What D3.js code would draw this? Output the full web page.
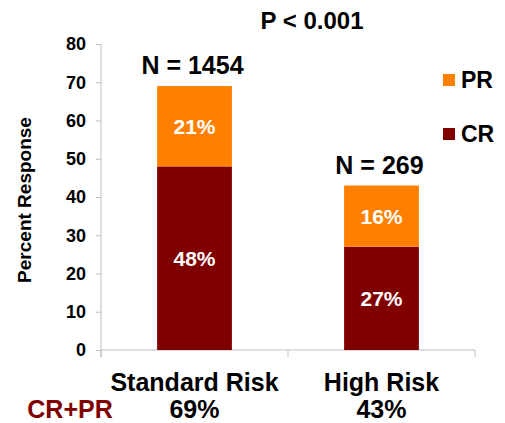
<!DOCTYPE html>
<html>
<head>
<meta charset="utf-8">
<title>Response</title>
<script src="https://cdnjs.cloudflare.com/ajax/libs/d3/7.8.5/d3.min.js"></script>
<style>
  body { margin: 0; background: #fff; }
  text { font-family: "Liberation Sans", Arial, sans-serif; font-weight: bold; }
</style>
</head>
<body>
<div id="chart"></div>
<script type="text/javascript">
	var groups = ["Standard Risk", "High Risk"];
	var sampleSizes = ["N = 1454", "N = 269"];
	var crValues = [48, 27];
	var prValues = [21, 16];
	var totals = ["69%", "43%"];
	var yTicks = [0, 10, 20, 30, 40, 50, 60, 70, 80];
	var colors = { CR: "#800000", PR: "#FF8000" };

	var width = 505, height = 423;
	var plotLeft = 101, plotRight = 475, plotTop = 44, plotBottom = 350;

	var svg = d3.select("#chart").append("svg")
		.attr("width", width)
		.attr("height", height);

	var x = d3.scaleBand().domain(groups).range([plotLeft, plotRight]).paddingInner(0.6).paddingOuter(0.3);
	var y = d3.scaleLinear().domain([0, 80]).range([plotBottom, plotTop]);

	// y axis
	var yAxis = svg.append("g")
		.attr("transform", "translate(" + plotLeft + ",0)")
		.call(d3.axisLeft(y).tickValues(yTicks).tickSize(5).tickPadding(10));
	yAxis.select(".domain").attr("stroke", "#bfbfbf").attr("d", "M0," + plotTop + "V" + (plotBottom + 7));
	yAxis.selectAll(".tick line").attr("stroke", "#bfbfbf");
	yAxis.selectAll(".tick text").attr("fill", "#000")
		.style("font-size", "18px")
		.style("font-family", "'Liberation Sans', Arial, sans-serif")
		.style("font-weight", "bold");

	// x axis with separators between categories
	svg.append("line")
		.attr("x1", plotLeft).attr("x2", plotRight)
		.attr("y1", plotBottom).attr("y2", plotBottom)
		.attr("stroke", "#bfbfbf");
	var step = (plotRight - plotLeft) / groups.length;
	d3.range(groups.length + 1).forEach(function(i) {
		svg.append("line")
			.attr("x1", plotLeft + i * step).attr("x2", plotLeft + i * step)
			.attr("y1", plotBottom).attr("y2", plotBottom + 7)
			.attr("stroke", "#bfbfbf");
	});

	// stacked bars
	var stackData = groups.map(function(g, i) {
		return { group: g, CR: crValues[i], PR: prValues[i] };
	});
	var series = d3.stack().keys(["CR", "PR"])(stackData);

	series.forEach(function(s) {
		svg.selectAll(null).data(s).enter().append("rect")
			.attr("x", function(d) { return x(d.data.group); })
			.attr("y", function(d) { return y(d[1]); })
			.attr("width", x.bandwidth())
			.attr("height", function(d) { return y(d[0]) - y(d[1]); })
			.attr("fill", colors[s.key]);

		svg.selectAll(null).data(s).enter().append("text")
			.attr("x", function(d) { return x(d.data.group) + x.bandwidth() / 2; })
			.attr("y", function(d) { return y((d[0] + d[1]) / 2); })
			.attr("dy", "0.36em")
			.attr("text-anchor", "middle")
			.attr("fill", "#fff")
			.style("font-size", "21px")
			.text(function(d) { return (d[1] - d[0]) + "%"; });
	});

	// N labels above bars
	svg.selectAll(null).data(stackData).enter().append("text")
		.attr("x", function(d) { return x(d.group) + x.bandwidth() / 2 - 2; })
		.attr("y", function(d) { return y(d.CR + d.PR) - 12; })
		.attr("text-anchor", "middle")
		.style("font-size", "25px")
		.text(function(d, i) { return sampleSizes[i]; });

	// category labels
	svg.selectAll(null).data(groups).enter().append("text")
		.attr("x", function(d) { return x(d) + x.bandwidth() / 2; })
		.attr("y", 391)
		.attr("text-anchor", "middle")
		.style("font-size", "25px")
		.text(function(d) { return d; });

	// totals row
	svg.append("text")
		.attr("x", 70).attr("y", 418)
		.attr("text-anchor", "middle")
		.attr("fill", colors.CR)
		.style("font-size", "25px")
		.text("CR+PR");
	svg.selectAll(null).data(groups).enter().append("text")
		.attr("x", function(d) { return x(d) + x.bandwidth() / 2; })
		.attr("y", 418)
		.attr("text-anchor", "middle")
		.style("font-size", "25px")
		.text(function(d, i) { return totals[i]; });

	// p value
	svg.append("text")
		.attr("x", 312).attr("y", 29)
		.attr("text-anchor", "middle")
		.style("font-size", "24px")
		.text("P < 0.001");

	// legend
	var legend = [["PR", 80], ["CR", 134]];
	legend.forEach(function(l) {
		svg.append("rect")
			.attr("x", 443).attr("y", l[1] - 6)
			.attr("width", 12).attr("height", 12)
			.attr("fill", colors[l[0]]);
		svg.append("text")
			.attr("x", 461).attr("y", l[1])
			.attr("dy", "0.36em")
			.style("font-size", "23px")
			.text(l[0]);
	});

	// y axis title
	svg.append("text")
		.attr("transform", "translate(31," + ((plotTop + plotBottom) / 2 + 3) + ") rotate(-90)")
		.attr("text-anchor", "middle")
		.style("font-size", "19px")
		.text("Percent Response");
</script>
</body>
</html>
